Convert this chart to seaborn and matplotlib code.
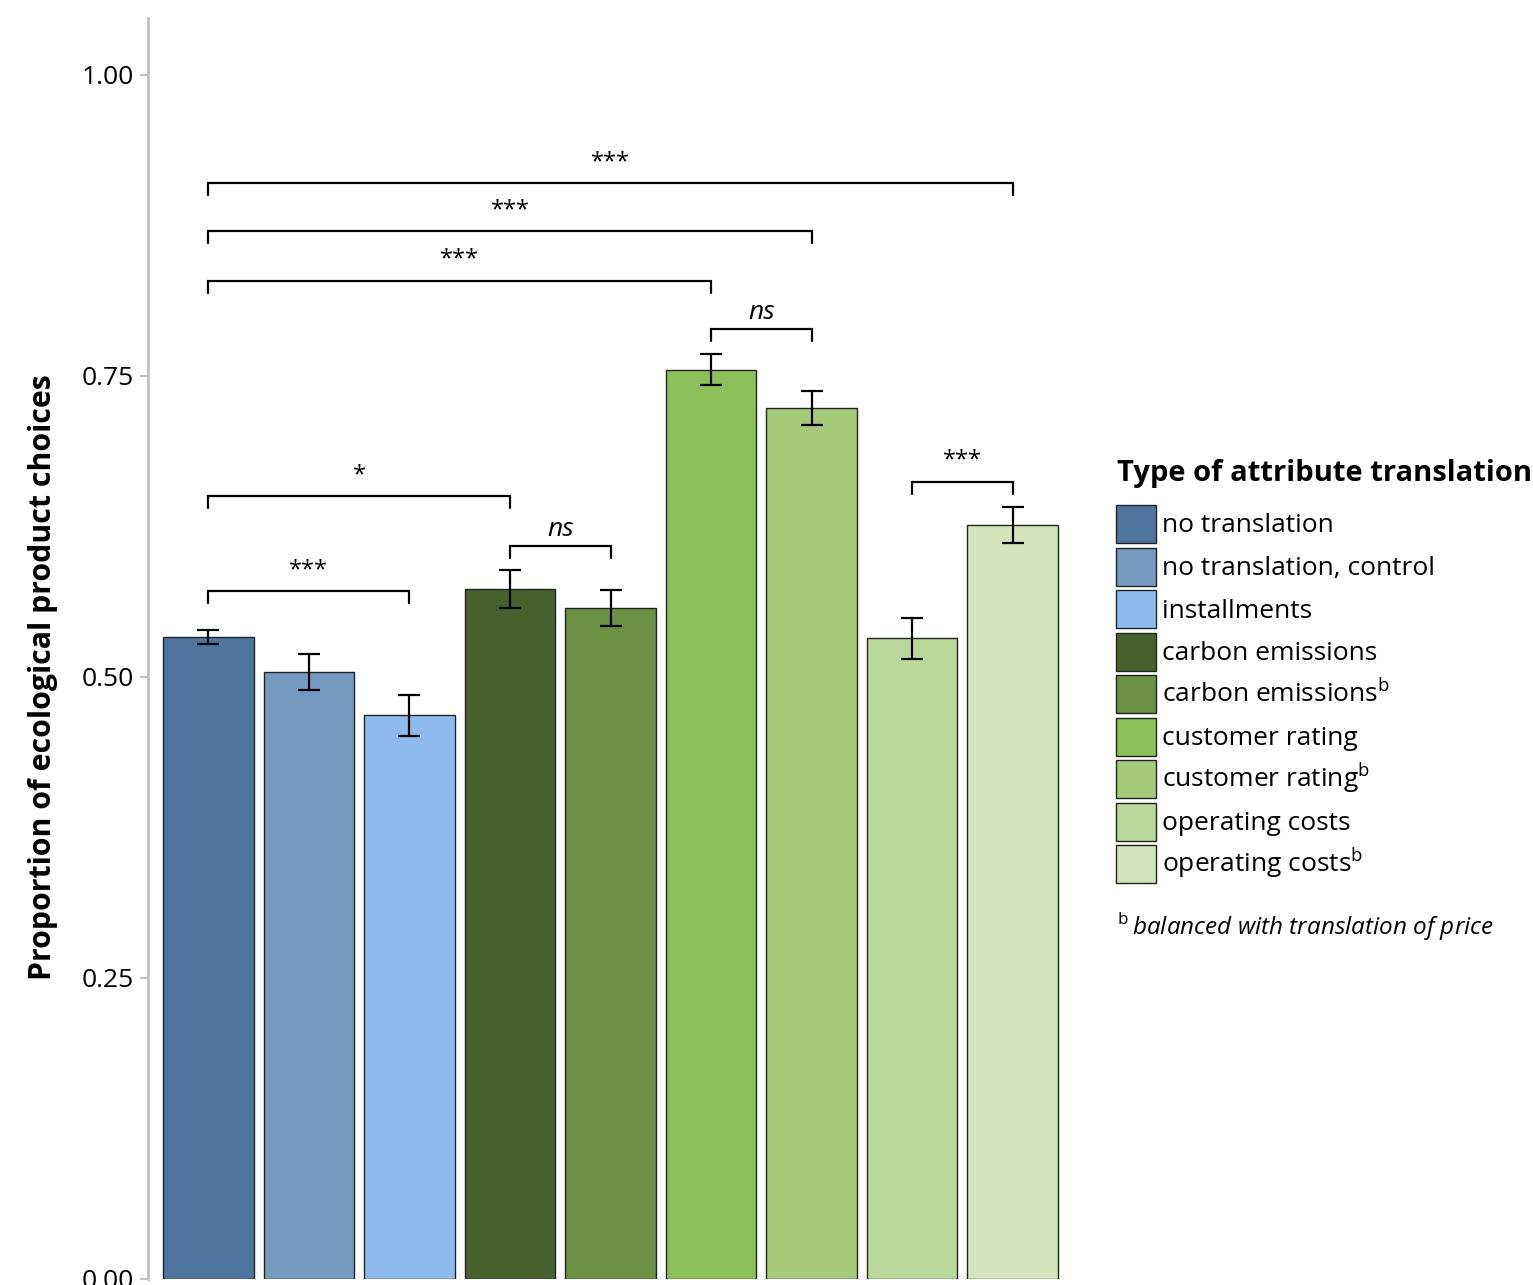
import numpy as np
import pandas as pd
import matplotlib
matplotlib.use('Agg')
import matplotlib.pyplot as plt
import matplotlib.patches as mpatches
import seaborn as sns

sns.set_style('white')
plt.rcParams['font.family'] = ['Open Sans', 'DejaVu Sans']
plt.rcParams['mathtext.fontset'] = 'custom'
plt.rcParams['mathtext.rm'] = 'Open Sans'
plt.rcParams['text.color'] = 'black'
plt.rcParams['axes.labelcolor'] = 'black'
plt.rcParams['ytick.labelcolor'] = 'black'

# data
categories = ['no translation', 'no translation, control', 'installments',
              'carbon emissions', 'carbon emissions$^{\\mathrm{b}}$',
              'customer rating', 'customer rating$^{\\mathrm{b}}$',
              'operating costs', 'operating costs$^{\\mathrm{b}}$']
proportion = [0.533, 0.504, 0.468, 0.573, 0.557, 0.755, 0.723, 0.532, 0.626]
err = [0.006, 0.015, 0.017, 0.016, 0.015, 0.013, 0.014, 0.017, 0.015]
colors = ['#4F74A0', '#7699BF', '#8EBBEE', '#46612D', '#6A9144',
          '#8CC058', '#A5CB7A', '#B8D99A', '#D2E5BC']

# significance brackets: (left bar, right bar, height, label)
sig_left = [0, 0, 0, 5, 0, 3, 0, 7]
sig_right = [8, 6, 5, 6, 3, 4, 2, 8]
sig_height = [0.910, 0.870, 0.829, 0.789, 0.650, 0.609, 0.571, 0.662]
sig_label = ['***', '***', '***', 'ns', '*', 'ns', '***', '***']

df = pd.DataFrame({'cond': categories, 'prop': proportion})

fig = plt.figure(figsize=(15.33, 12.85), dpi=100)
ax = fig.add_axes([148/1533, 6/1285, 915/1533, 1261/1285])

sns.barplot(data=df, x='cond', y='prop', hue='cond', palette=colors,
            dodge=False, legend=False, width=0.9, edgecolor='#222222',
            linewidth=1.0, errorbar=None, saturation=1, ax=ax)
x = np.arange(len(categories))
ax.errorbar(x, proportion, yerr=err, fmt='none', ecolor='black',
            elinewidth=1.6, capsize=8, capthick=1.6)

# brackets
drop = 0.01
for l, r, h, lab in zip(sig_left, sig_right, sig_height, sig_label):
    ax.plot([l, l, r, r], [h - drop, h, h, h - drop], color='black', lw=1.6,
            solid_joinstyle='miter')
    if lab == 'ns':
        ax.text((l + r) / 2, h + 0.003, lab, ha='center', va='bottom',
                fontsize=19, style='italic')
    else:
        ax.text((l + r) / 2, h + 0.0075, lab, ha='center', va='bottom',
                fontsize=17)

ax.set_xlim(-0.6, 8.5)
ax.set_ylim(0, 1.047)
ax.set_yticks([0, 0.25, 0.5, 0.75, 1.0])
ax.set_yticklabels(['0.00', '0.25', '0.50', '0.75', '1.00'], fontsize=19)
ax.set_xticks([])
ax.set_xlabel('')
ax.set_ylabel('Proportion of ecological product choices', fontsize=21.8,
              fontweight='bold')
ax.yaxis.set_label_coords(-0.098, 0.5 / 1.047)
for s in ['top', 'right', 'bottom']:
    ax.spines[s].set_visible(False)
ax.spines['left'].set_color('#C0C0C0')
ax.spines['left'].set_linewidth(2)
ax.tick_params(axis='y', left=True, length=6, width=1.5, color='#C0C0C0',
               labelcolor='black', pad=4)

# legend (title drawn separately for spacing)
fig.text(1117/1533, 1 - 473/1285, 'Type of attribute translation',
         fontsize=21, fontweight='bold', va='center', ha='left')
handles = [mpatches.Patch(facecolor=c, edgecolor='#222222', linewidth=1.0)
           for c in colors]
leg = fig.legend(handles, categories, loc='upper left',
                 bbox_to_anchor=(1116/1533, 1 - 505/1285), frameon=False,
                 fontsize=19, handlelength=1.5, handleheight=1.84,
                 labelspacing=0.17, handletextpad=0.25, borderaxespad=0,
                 borderpad=0, labelcolor='black')

fig.text(1117/1533, 1 - 927/1285,
         '$^{\\mathrm{b}}\\,$balanced with translation of price',
         fontsize=17.5, style='italic', va='center', ha='left')

fig.savefig('out.png', dpi=100)
